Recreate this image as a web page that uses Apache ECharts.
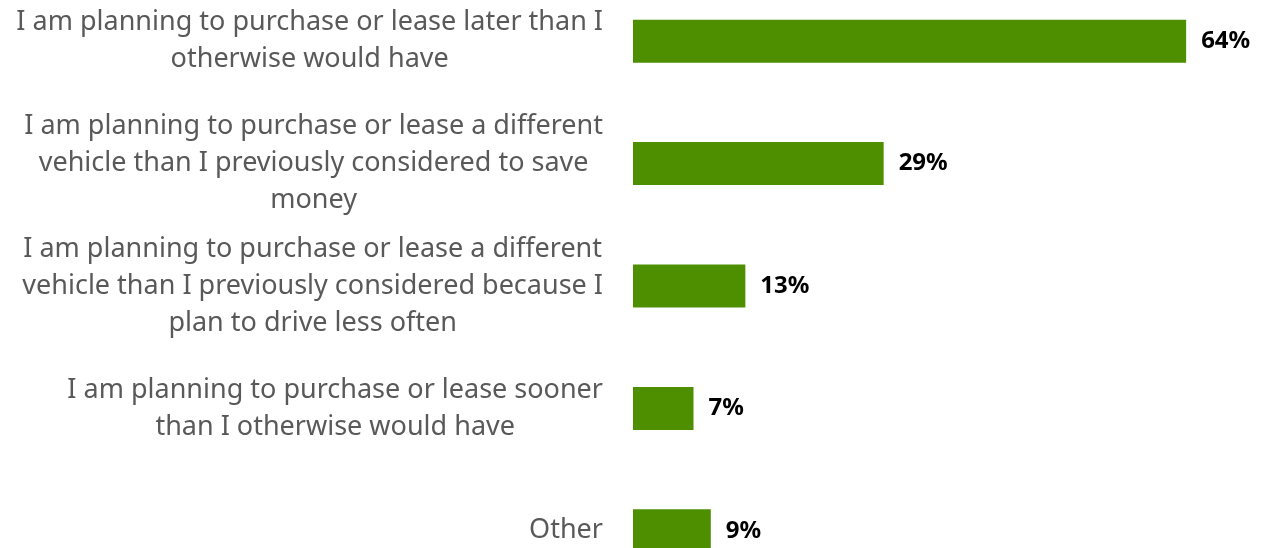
<!DOCTYPE html>
<html><head><meta charset="utf-8">
<script src="https://cdn.jsdelivr.net/npm/echarts@6/dist/echarts.min.js"></script>
<style>html,body{margin:0;padding:0;background:#fff}#c{width:1263px;height:548px}</style>
</head><body><div id="c"></div>
<script>
const categories = [
  "I am planning to purchase or lease later than I\notherwise would have",
  "I am planning to purchase or lease a different\nvehicle than I previously considered to save\nmoney",
  "I am planning to purchase or lease a different\nvehicle than I previously considered because I\nplan to drive less often",
  "I am planning to purchase or lease sooner\nthan I otherwise would have",
  "Other"
];
const values = [64, 29, 13, 7, 9];

const chart = echarts.init(document.getElementById('c'));
chart.setOption({
  animation: false,
  grid: { left: 633, right: 25, top: -20, height: 612, outerBoundsMode: 'none', containLabel: false },
  xAxis: { type: 'value', min: 0, max: 70, show: false },
  yAxis: {
    type: 'category', inverse: true, data: categories,
    axisLine: { show: false }, axisTick: { show: false },
    axisLabel: {
      margin: 30,
      formatter: v => v.split('\n').map(s => '{a|' + s + '}').join('\n'),
      rich: { a: { align: 'center', fontFamily: 'Noto Sans', fontSize: 27, color: '#595959', lineHeight: 37 } }
    }
  },
  series: [{
    type: 'bar', data: values, barWidth: 43,
    itemStyle: { color: '#4E8F00' },
    label: {
      show: true, position: 'right', distance: 15, formatter: '{c}%',
      fontFamily: 'Noto Sans', fontWeight: 'bold', fontSize: 24, color: '#000'
    }
  }]
});
</script></body></html>
